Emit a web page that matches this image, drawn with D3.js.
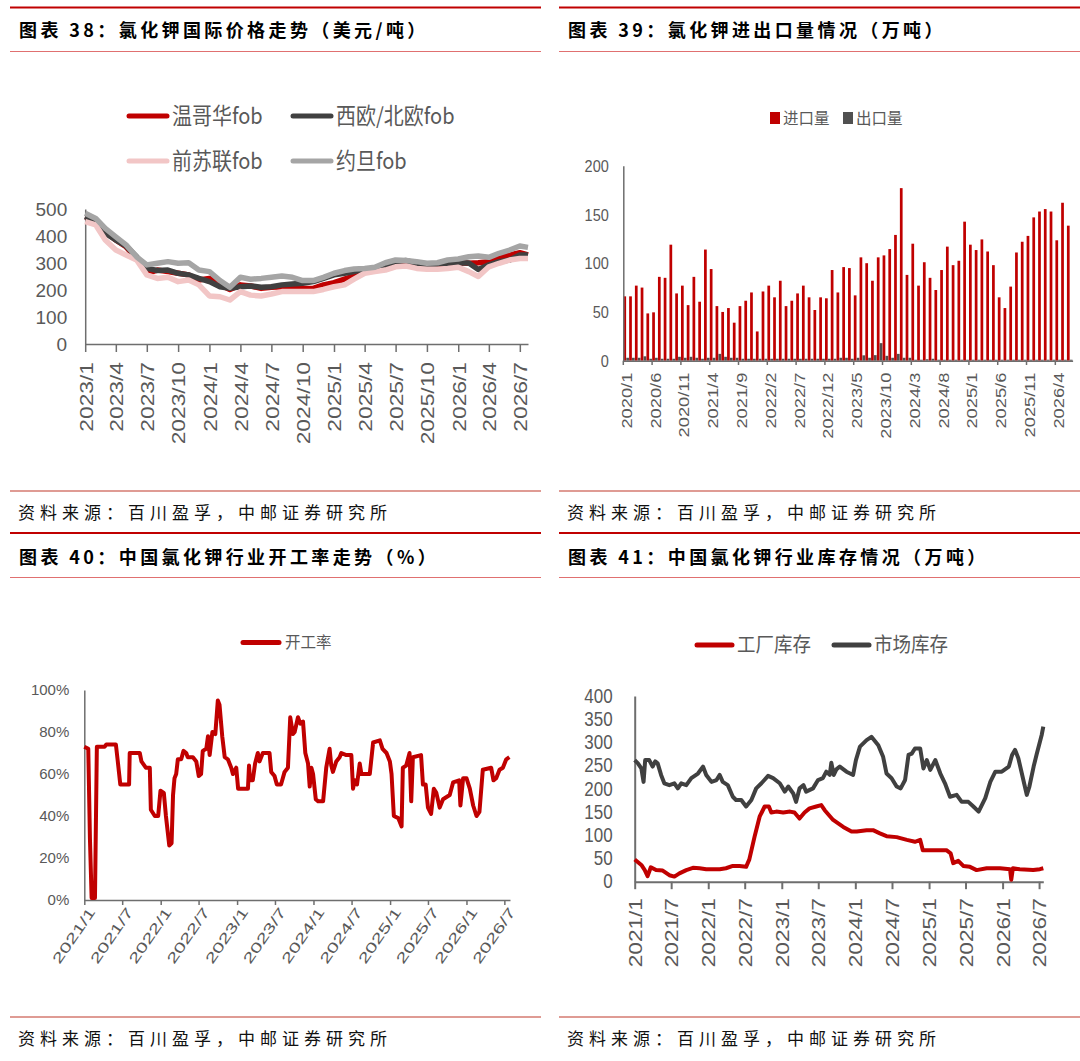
<!DOCTYPE html>
<html><head><meta charset="utf-8">
<script src="https://cdn.jsdelivr.net/npm/d3@7"></script>
<style>
body{margin:0;background:#fff;}
svg{display:block;}
</style></head><body>
<svg id="chart" width="1080" height="1061"></svg>
<script>
// ---------------- DATA ----------------
const titles = ["图表 38：氯化钾国际价格走势（美元/吨）","图表 39：氯化钾进出口量情况（万吨）","图表 40：中国氯化钾行业开工率走势（%）","图表 41：中国氯化钾行业库存情况（万吨）"];
const sourceText = "资料来源：百川盈孚，中邮证券研究所";

// Chart 38
const p1Series = ["温哥华fob","西欧/北欧fob","前苏联fob","约旦fob"];
const p1Dates = ["2023-01-01","2023-02-01","2023-03-01","2023-04-01","2023-05-01","2023-06-01","2023-07-01","2023-08-01","2023-09-01","2023-10-01","2023-11-01","2023-12-01",
"2024-01-01","2024-02-01","2024-03-01","2024-04-01","2024-05-01","2024-06-01","2024-07-01","2024-08-01","2024-09-01","2024-10-01","2024-11-01","2024-12-01",
"2025-01-01","2025-02-01","2025-03-01","2025-04-01","2025-05-01","2025-06-01","2025-07-01","2025-08-01","2025-09-01","2025-10-01","2025-11-01","2025-12-01",
"2026-01-01","2026-02-01","2026-03-01","2026-04-01","2026-05-01","2026-06-01","2026-07-01","2026-07-25"];
const p1Vancouver = [472,459,416,385,360,317,262,274,268,262,256,237, 243,219,202,219,215,206,210,212,210,206,206,219, 227,240,252,268,274,280,293,293,286,280,284,293, 301,299,301,305,323,330,338,330];
const p1WestEurope = [472,453,410,385,363,323,280,272,274,262,256,243, 231,212,206,212,215,210,212,219,222,225,231,243, 256,262,268,277,280,293,305,309,299,293,296,299, 301,300,276,293,305,311,330,330];
const p1FormerUSSR = [453,441,385,348,330,311,256,243,247,231,237,219, 178,175,163,194,181,178,185,194,194,194,194,202, 212,219,240,262,268,274,286,289,280,277,277,280, 284,268,250,286,299,311,317,317];
const p1Jordan = [484,465,428,397,367,323,293,299,305,299,301,274, 268,235,210,247,240,243,247,252,247,235,235,247, 262,272,278,280,284,301,311,309,305,299,301,311, 315,323,326,321,336,348,363,358];
const p1YTicks = [0,100,200,300,400,500];
const p1XTicks = ["2023/1","2023/4","2023/7","2023/10","2024/1","2024/4","2024/7","2024/10","2025/1","2025/4","2025/7","2025/10","2026/1","2026/4","2026/7"];

// Chart 39
const p2Series = ["进口量","出口量"];
const p2Months = ["2020/1","2020/2","2020/3","2020/4","2020/5","2020/6","2020/7","2020/8","2020/9","2020/10","2020/11","2020/12",
"2021/1","2021/2","2021/3","2021/4","2021/5","2021/6","2021/7","2021/8","2021/9","2021/10","2021/11","2021/12",
"2022/1","2022/2","2022/3","2022/4","2022/5","2022/6","2022/7","2022/8","2022/9","2022/10","2022/11","2022/12",
"2023/1","2023/2","2023/3","2023/4","2023/5","2023/6","2023/7","2023/8","2023/9","2023/10","2023/11","2023/12",
"2024/1","2024/2","2024/3","2024/4","2024/5","2024/6","2024/7","2024/8","2024/9","2024/10","2024/11","2024/12",
"2025/1","2025/2","2025/3","2025/4","2025/5","2025/6","2025/7","2025/8","2025/9","2025/10","2025/11","2025/12",
"2026/1","2026/2","2026/3","2026/4","2026/5","2026/6"];
const p2Imports = [66,66,77,75,48.5,49.6,86,85,119,69, 77,57,86,60.5,114,94,56,50,54,39, 56,61.5,70,30,71,77,65,82,56,61.5, 69,77,65,52,65,64,93,70,96,95, 67,106,100,82,106,108,114.5,129,177,88, 120,77,101,85,72.5,93,117,98,102.5,142.6, 119,113.5,124.4,112,98,65,54,76,111,122, 128,147,153,155.5,153,123.5,162,138.5];
const p2Exports = [3,3,3,4.5,2,3,2,2,2,4, 3,4,3,2,3,3,7,4,3,3, 2,2,2,2,2,2,2,2,2,2, 2,2,2,2,2,2,2,3,3,2, 3,5.5,3,5.7,18,5,3,7,3,3, 1,1,1.5,2,1,1,1,1,1,1, 1,1,1,1,1,1,1,1,1,1, 1,1,1,1,1,1,1,1];
const p2YTicks = [0,50,100,150,200];
const p2XTicks = ["2020/1","2020/6","2020/11","2021/4","2021/9","2022/2","2022/7","2022/12","2023/5","2023/10","2024/3","2024/8","2025/1","2025/6","2025/11","2026/4"];

// Chart 40
const p3Series = ["开工率"];
const p3Dates = ["2021-01-01","2021-01-20","2021-01-28","2021-02-05","2021-02-21","2021-03-02","2021-04-08","2021-04-16","2021-06-01","2021-06-10","2021-06-22","2021-08-03","2021-08-06","2021-09-23","2021-10-01","2021-10-22","2021-11-10","2021-11-15","2021-12-04","2021-12-20","2021-12-31",
"2022-01-16","2022-01-26","2022-02-11","2022-02-22","2022-03-01","2022-03-08","2022-03-16","2022-03-24","2022-04-09","2022-04-20","2022-05-03","2022-05-10","2022-06-04","2022-06-20","2022-07-02","2022-07-13","2022-07-21","2022-08-07","2022-08-15","2022-08-23","2022-09-05","2022-09-19","2022-10-01","2022-10-09","2022-10-22","2022-11-03","2022-11-18","2022-12-04","2022-12-12","2022-12-28",
"2023-01-06","2023-02-22","2023-02-27","2023-03-04","2023-03-17","2023-03-28","2023-04-10","2023-04-18","2023-05-04","2023-06-05","2023-06-13","2023-06-29","2023-07-10","2023-07-30","2023-08-16","2023-09-01","2023-09-12","2023-09-25","2023-10-03","2023-10-19","2023-10-30","2023-11-12","2023-11-23","2023-12-06","2023-12-14","2023-12-22","2023-12-30",
"2024-01-12","2024-01-23","2024-02-16","2024-03-02","2024-03-18","2024-03-26","2024-04-03","2024-04-19","2024-05-05","2024-05-13","2024-06-06","2024-06-30","2024-07-08","2024-07-16","2024-07-27","2024-08-09","2024-08-17","2024-09-26","2024-10-12","2024-11-13","2024-11-26","2024-12-15","2024-12-31",
"2025-01-08","2025-01-19","2025-02-09","2025-02-25","2025-03-03","2025-03-19","2025-04-04","2025-04-12","2025-04-20","2025-05-29","2025-06-07","2025-06-20","2025-07-01","2025-07-16","2025-07-29","2025-08-10","2025-08-26","2025-09-11","2025-10-13","2025-10-29","2025-11-27","2025-12-03","2025-12-16",
"2026-01-01","2026-01-17","2026-02-02","2026-02-18","2026-03-04","2026-03-20","2026-04-29","2026-05-10","2026-05-23","2026-06-08","2026-06-24","2026-07-10","2026-07-25"];
const p3Rate = [73,72,29,1,1,73,73,74,74,66,55,55,70,70,66,63,63,43,40,40,52,
51,40,26,27,50,58,60,67,67,71,70,68,68,66,59,60,71,72,78,69,80,79,95,93,78,68,67,63,60,63,
53,53,64,57,57,65,70,66,70,70,61,59,55,55,61,63,87,79,80,87,84,85,70,65,54,63,60,
48,47,47,63,72,64,61,66,68,70,69,69,53,57,55,65,60,60,75,76,72,70,66,
60,40,39,35,63,64,70,47,68,69,55,55,44,41,53,51,44,48,50,56,57,45,58,
58,53,45,40,42,62,63,57,58,62,63,67,68];
const p3YTicks = [0,0.2,0.4,0.6,0.8,1.0];
const p3XTicks = ["2021/1","2021/7","2022/1","2022/7","2023/1","2023/7","2024/1","2024/7","2025/1","2025/7","2026/1","2026/7"];

// Chart 41
const p4Series = ["工厂库存","市场库存"];
const p4FactoryDates = ["2021-01-01","2021-02-03","2021-02-20","2021-03-06","2021-03-22","2021-04-17","2021-05-20","2021-06-22","2021-07-17","2021-08-11","2021-09-14","2021-10-17","2021-11-19","2021-12-22",
"2022-01-25","2022-02-27","2022-03-30","2022-05-03","2022-06-05","2022-07-08","2022-07-24","2022-08-19","2022-09-13","2022-10-08","2022-10-29","2022-11-10","2022-12-05",
"2023-01-08","2023-02-11","2023-03-05","2023-03-30","2023-04-24","2023-05-19","2023-06-21","2023-07-16","2023-08-02","2023-09-13","2023-11-02","2023-12-13",
"2024-01-08","2024-02-26","2024-03-29","2024-05-02","2024-06-04","2024-07-24","2024-09-13","2024-10-23","2024-11-18","2024-12-01",
"2025-01-23","2025-03-28","2025-04-18","2025-05-01","2025-05-26","2025-06-20","2025-07-23","2025-08-25","2025-10-14","2025-12-19",
"2026-02-07","2026-02-13","2026-02-21","2026-03-27","2026-06-02","2026-07-05","2026-07-22"];
const p4Factory = [48,36,25,12,31,25,24,14,11,18,25,30,29,27,
27,27,29,34,34,32,48,97,140,162,162,149,151,
149,151,149,136,149,158,162,165,154,133,118,108,
108,111,111,104,98,96,90,86,90,68,
68,68,61,40,45,34,32,25,29,29,
27,4,29,27,25,27,29];
const p4MarketDates = ["2021-01-01","2021-01-17","2021-02-03","2021-02-14","2021-02-22","2021-03-14","2021-03-31","2021-04-13","2021-04-25","2021-05-12","2021-05-28","2021-06-22","2021-07-17","2021-08-03","2021-08-20","2021-09-14","2021-10-09","2021-11-11","2021-12-06","2021-12-22",
"2022-01-17","2022-02-11","2022-02-27","2022-03-14","2022-04-08","2022-05-03","2022-05-19","2022-06-14","2022-07-08","2022-08-03","2022-08-27","2022-09-22","2022-10-25","2022-11-19","2022-12-22",
"2023-01-16","2023-02-02","2023-02-27","2023-03-13","2023-03-30","2023-04-19","2023-05-02","2023-06-05","2023-06-30","2023-07-24","2023-08-10","2023-08-27","2023-09-04","2023-09-16","2023-09-29","2023-10-16","2023-11-18","2023-12-21",
"2024-01-04","2024-01-24","2024-02-26","2024-03-21","2024-04-24","2024-05-18","2024-06-04","2024-06-29","2024-07-24","2024-08-13","2024-09-04","2024-09-21","2024-10-07","2024-10-23","2024-11-18","2024-12-04","2024-12-21",
"2025-01-07","2025-02-01","2025-02-26","2025-03-21","2025-04-15","2025-05-18","2025-06-12","2025-07-15","2025-08-09","2025-09-04","2025-10-07","2025-11-01","2025-11-26","2025-12-28",
"2026-02-01","2026-02-17","2026-03-04","2026-03-20","2026-04-14","2026-05-01","2026-05-14","2026-06-04","2026-06-20","2026-07-14","2026-07-22"];
const p4Market = [262,255,244,215,262,262,248,259,255,230,212,208,212,201,212,208,223,233,248,230,
215,219,230,215,208,183,176,176,162,176,201,212,228,223,212,
194,205,190,172,201,208,194,201,219,223,237,230,256,230,242,248,237,230,
262,291,305,312,294,269,233,223,205,201,219,273,276,287,287,244,262,
241,262,233,212,183,187,172,172,162,151,180,215,237,237,
248,273,284,266,219,187,205,248,276,316,334];
const p4YTicks = [0,50,100,150,200,250,300,350,400];
const p4XTicks = ["2021/1","2021/7","2022/1","2022/7","2023/1","2023/7","2024/1","2024/7","2025/1","2025/7","2026/1","2026/7"];

// ---------------- DRAW ----------------
const svg = d3.select('#chart');
const parse = d3.timeParse('%Y-%m-%d');
const parseM = d3.timeParse('%Y/%m');
const fmtM = d3.timeFormat('%Y/%-m');
const RED = '#C00000', DARK = '#404040', PINK = '#F2C6C6', GRAY = '#A5A5A5', AXIS = '#6E6E6E', TXT = '#595959';
const NUM = '"Liberation Sans", Arial, "Noto Sans CJK SC", sans-serif';
const CJK = '"Noto Sans CJK SC", "Noto Sans", sans-serif';

svg.append('rect').attr('width',1080).attr('height',1061).attr('fill','#fff');

// frames (title bars and source lines)
const cols = [{x0:10,x1:541,tx:19},{x0:559,x1:1080,tx:568}];
const rows = [{thick:7.5,title:37,thin:51.5,foot:491,ftext:518.5},{thick:533,title:563.5,thin:577.5,foot:1017,ftext:1045}];
const fr = svg.append('g');
rows.forEach((r,ri)=>cols.forEach((c,ci)=>{
  fr.append('line').attr('x1',c.x0).attr('x2',c.x1).attr('y1',r.thick).attr('y2',r.thick).attr('stroke','#C00000').attr('stroke-width',2);
  fr.append('line').attr('x1',c.x0).attr('x2',c.x1).attr('y1',r.thin).attr('y2',r.thin).attr('stroke','#E07070').attr('stroke-width',1.2);
  fr.append('line').attr('x1',c.x0).attr('x2',c.x1).attr('y1',r.foot).attr('y2',r.foot).attr('stroke','#C0392B').attr('stroke-width',1.2);
  fr.append('text').attr('x',c.tx).attr('y',r.title).attr('font-family',CJK).attr('font-weight','bold')
    .attr('font-size',18).attr('letter-spacing',3.4).attr('fill','#000').text(titles[ri*2+ci]);
  fr.append('text').attr('x',c.tx-1).attr('y',r.ftext).attr('font-family',CJK)
    .attr('font-size',17).attr('letter-spacing',5).attr('fill','#111').text(sourceText);
}));

function styleAxis(g, size, width){
  g.attr('font-family',NUM).attr('font-size',size);
  g.select('.domain').attr('stroke',AXIS).attr('stroke-width',width||1.5);
  g.selectAll('.tick line').attr('stroke',AXIS).attr('stroke-width',width||1.5);
  g.selectAll('.tick text').attr('fill',TXT);
}
function rotLabels(g, gap, s){
  g.selectAll('.tick text').attr('transform',`rotate(-90) scale(${s},1)`)
    .attr('text-anchor','end').attr('x',-gap/s).attr('y',0).attr('dy','0.36em');
}
function vStretch(g, s){
  g.selectAll('.tick text').attr('transform',`scale(1,${s})`);
}

// ===== Chart 38 =====
{
  const x = d3.scaleTime().domain([parse('2023-01-01'),parse('2026-07-25')]).range([85.2,528]);
  const y = d3.scaleLinear().domain([0,500]).range([344,209]);
  const g = svg.append('g');
  const ya = g.append('g').attr('transform','translate(85.2,0)')
    .call(d3.axisLeft(y).tickValues(p1YTicks).tickSize(0).tickSizeOuter(0).tickPadding(18));
  styleAxis(ya,19);
  const xa = g.append('g').attr('transform','translate(0,344)')
    .call(d3.axisBottom(x).tickValues(p1XTicks.map(parseM)).tickFormat(fmtM).tickSize(8).tickSizeOuter(0));
  styleAxis(xa,19);
  rotLabels(xa,18,1.2);
  const series = [p1Vancouver,p1WestEurope,p1FormerUSSR,p1Jordan];
  const colors = [RED,DARK,PINK,GRAY];
  const line = d3.line().x(d=>x(d.date)).y(d=>y(d.v));
  series.forEach((vals,i)=>{
    const data = p1Dates.map((d,k)=>({date:parse(d),v:vals[k]}));
    g.append('path').datum(data).attr('d',line).attr('fill','none').attr('stroke',colors[i])
      .attr('stroke-width',5.5).attr('stroke-linejoin','round');
  });
  // legend
  const leg = [{x:127,y:116},{x:291,y:116},{x:127,y:161},{x:291,y:161}];
  p1Series.forEach((name,i)=>{
    const p = leg[i];
    g.append('line').attr('x1',p.x+2).attr('x2',p.x+40).attr('y1',p.y).attr('y2',p.y)
      .attr('stroke',colors[i]).attr('stroke-width',5).attr('stroke-linecap','round');
    g.append('text').attr('x',p.x+45).attr('y',p.y).attr('dy','0.36em').attr('font-family',CJK)
      .attr('font-size',20).attr('fill',TXT).attr('transform',`translate(0,${p.y}) scale(1,1.12) translate(0,${-p.y})`).text(name);
  });
}

// ===== Chart 39 =====
{
  const x = d3.scaleBand().domain(p2Months).range([623.3,1072.6]).padding(0);
  const sub = d3.scaleBand().domain(p2Series).range([0,x.bandwidth()]).paddingInner(0.05).paddingOuter(0.03);
  const y = d3.scaleLinear().domain([0,200]).range([360.7,165.7]);
  const g = svg.append('g');
  const rowsData = p2Months.map((m,i)=>({m, vals:[{k:p2Series[0],v:p2Imports[i]},{k:p2Series[1],v:p2Exports[i]}]}));
  const colors = {[p2Series[0]]:RED,[p2Series[1]]:'#505050'};
  g.selectAll('g.bar').data(rowsData).join('g').attr('class','bar')
    .attr('transform',d=>`translate(${x(d.m)},0)`)
    .selectAll('rect').data(d=>d.vals).join('rect')
    .attr('x',d=>sub(d.k)).attr('width',sub.bandwidth())
    .attr('y',d=>y(d.v)).attr('height',d=>y(0)-y(d.v)).attr('fill',d=>colors[d.k]);
  const ya = g.append('g').attr('transform','translate(623.3,0)')
    .call(d3.axisLeft(y).tickValues(p2YTicks).tickSize(0).tickSizeOuter(0).tickPadding(14.5));
  styleAxis(ya,14.5);
  vStretch(ya,1.2);
  const xa = g.append('g').attr('transform','translate(0,360.7)')
    .call(d3.axisBottom(x).tickValues(p2XTicks).tickSize(0).tickSizeOuter(0));
  styleAxis(xa,15.5);
  rotLabels(xa,12,1.18);
  // tick marks at category boundaries
  g.selectAll('line.tk').data(p2XTicks).join('line').attr('class','tk')
    .attr('x1',d=>x(d)).attr('x2',d=>x(d)).attr('y1',360.7).attr('y2',365)
    .attr('stroke',AXIS).attr('stroke-width',1.5);
  // legend
  const lx = [770,843];
  p2Series.forEach((name,i)=>{
    g.append('rect').attr('x',lx[i]).attr('y',112).attr('width',10).attr('height',12).attr('fill',colors[name]);
    g.append('text').attr('x',lx[i]+13).attr('y',118).attr('dy','0.36em').attr('font-family',CJK)
      .attr('font-size',15.5).attr('fill',TXT).text(name);
  });
}

// ===== Chart 40 =====
{
  const x = d3.scaleTime().domain([parse('2021-01-01'),parse('2026-07-28')]).range([84.3,510]);
  const y = d3.scaleLinear().domain([0,1]).range([900,690]);
  const g = svg.append('g');
  const ya = g.append('g').attr('transform','translate(84.3,0)')
    .call(d3.axisLeft(y).tickValues(p3YTicks).tickFormat(d3.format('.0%')).tickSize(0).tickSizeOuter(0).tickPadding(15));
  styleAxis(ya,15);
  const xa = g.append('g').attr('transform','translate(0,900)')
    .call(d3.axisBottom(x).tickValues(p3XTicks.map(parseM)).tickFormat(fmtM).tickSize(5).tickSizeOuter(0));
  styleAxis(xa,14);
  xa.selectAll('.tick text').attr('text-anchor','end').attr('x',0).attr('y',0).attr('dy','0.36em')
    .attr('transform','translate(7,9) rotate(-55.5) scale(1.5,1)');
  const data = p3Dates.map((d,k)=>({date:parse(d),v:p3Rate[k]/100}));
  g.append('path').datum(data).attr('d',d3.line().x(d=>x(d.date)).y(d=>y(d.v)))
    .attr('fill','none').attr('stroke',RED).attr('stroke-width',4).attr('stroke-linejoin','round');
  g.append('line').attr('x1',243).attr('x2',279).attr('y1',642.5).attr('y2',642.5)
    .attr('stroke',RED).attr('stroke-width',5).attr('stroke-linecap','round');
  g.append('text').attr('x',285).attr('y',642.5).attr('dy','0.36em').attr('font-family',CJK)
    .attr('font-size',15.5).attr('fill',TXT).text(p3Series[0]);
}

// ===== Chart 41 =====
{
  const x = d3.scaleTime().domain([parse('2021-01-01'),parse('2026-07-22')]).range([634.7,1043.3]);
  const y = d3.scaleLinear().domain([0,400]).range([881.7,696]);
  const g = svg.append('g');
  const ya = g.append('g').attr('transform','translate(634.7,0)')
    .call(d3.axisLeft(y).tickValues(p4YTicks).tickSize(0).tickSizeOuter(0).tickPadding(22));
  styleAxis(ya,17,2);
  vStretch(ya,1.15);
  const xa = g.append('g').attr('transform','translate(0,881.7)')
    .call(d3.axisBottom(x).tickValues(p4XTicks.map(parseM)).tickFormat(fmtM).tickSize(7.5).tickSizeOuter(0));
  styleAxis(xa,18.5,2);
  rotLabels(xa,16.5,1.22);
  const line = d3.line().x(d=>x(d.date)).y(d=>y(d.v));
  const market = p4MarketDates.map((d,k)=>({date:parse(d),v:p4Market[k]}));
  const factory = p4FactoryDates.map((d,k)=>({date:parse(d),v:p4Factory[k]}));
  g.append('path').datum(factory).attr('d',line).attr('fill','none').attr('stroke',RED).attr('stroke-width',4).attr('stroke-linejoin','round');
  g.append('path').datum(market).attr('d',line).attr('fill','none').attr('stroke',DARK).attr('stroke-width',4).attr('stroke-linejoin','round');
  const lx = [695,832], lc = [RED,DARK];
  p4Series.forEach((name,i)=>{
    g.append('line').attr('x1',lx[i]+2).attr('x2',lx[i]+37).attr('y1',645).attr('y2',645)
      .attr('stroke',lc[i]).attr('stroke-width',5).attr('stroke-linecap','round');
    g.append('text').attr('x',lx[i]+42).attr('y',645).attr('dy','0.36em').attr('font-family',CJK)
      .attr('font-size',18.5).attr('fill',TXT).attr('transform','translate(0,645) scale(1,1.1) translate(0,-645)').text(name);
  });
}
</script></body></html>
